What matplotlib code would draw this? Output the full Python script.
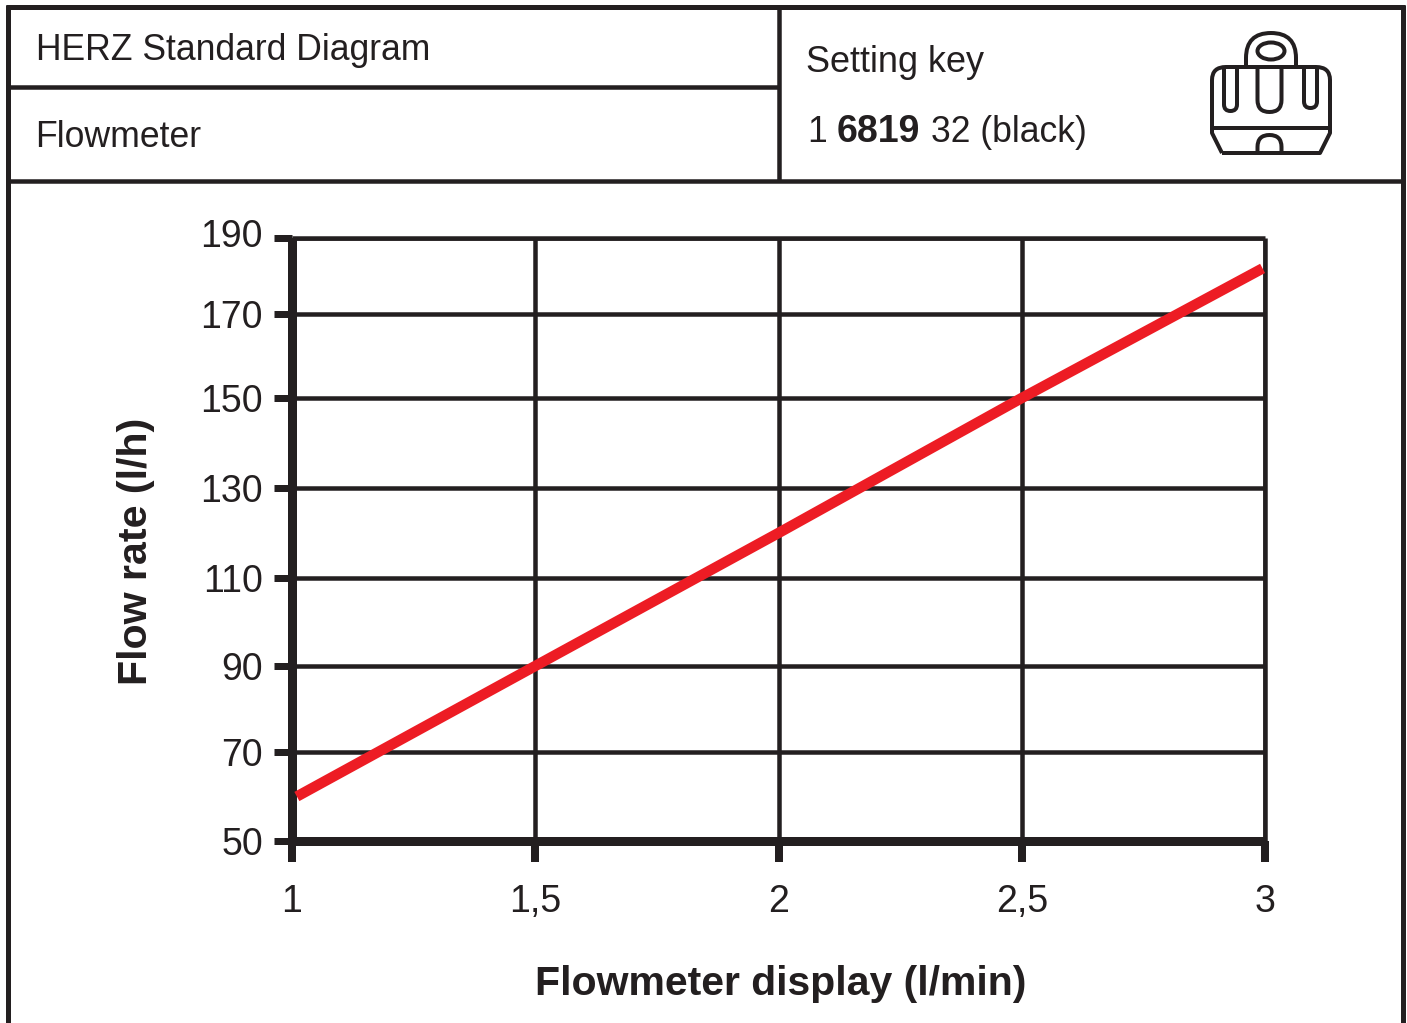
import numpy as np
import matplotlib
matplotlib.use('Agg')
import matplotlib.pyplot as plt
from matplotlib.path import Path
from matplotlib.patches import PathPatch, Ellipse
from matplotlib.transforms import ScaledTranslation

plt.rcParams['font.family'] = ['Liberation Sans', 'DejaVu Sans']

display_values = [1, 1.5, 2, 2.5, 3]
display_labels = ['1', '1,5', '2', '2,5', '3']
flow_display = [1.01, 1.5, 2, 2.5, 2.995]
flow_rate = [60, 90, 120, 150, 182]
flow_ticks = [50, 70, 90, 110, 130, 150, 170, 190]

# the printed y grid is not quite even, so the scale follows the pixel rows
tick_rows = np.array([841, 752, 666, 578, 488, 398, 314, 238])

INK = '#231f20'
RED = '#ed1c24'
W, H = 1407, 1023


def px(n):
    return n * 72 / 100


def rows_forward(v):
    return np.interp(v, flow_ticks, 841 - tick_rows)


def rows_inverse(v):
    return np.interp(v, 841 - tick_rows, flow_ticks)


fig = plt.figure(figsize=(W / 100, H / 100), dpi=100, facecolor='white')

# overlay in pixel coordinates for the header table and the icon
bg = fig.add_axes([0, 0, 1, 1])
bg.set_xlim(0, W)
bg.set_ylim(H, 0)
bg.axis('off')

for xs, ys, w in [([8, 8], [5, H], 5), ([1403, 1403], [5, H], 5), ([6, 1405], [7, 7], 5),
                  ([8, 1403], [181, 181], 4.5), ([8, 779], [87, 87], 4.5), ([779, 779], [7, 181], 4.5)]:
    bg.plot(xs, ys, color=INK, lw=px(w), solid_capstyle='butt')

bg.text(36, 60, 'HERZ Standard Diagram', fontsize=25.6, color=INK)
bg.text(35, 147, 'Flowmeter', fontsize=25.7, color=INK)
bg.text(806, 72, 'Setting key', fontsize=26, color=INK)
bg.text(807, 142, '1', fontsize=25.6, color=INK)
bg.text(837, 142, '6819', fontsize=27, color=INK, fontweight='bold')
bg.text(931, 142, '32 (black)', fontsize=25.6, color=INK)

M, L, C = Path.MOVETO, Path.LINETO, Path.CURVE3


def outline(verts, codes=None):
    bg.add_patch(PathPatch(Path(verts, codes), fill=False, ec=INK, lw=px(4), joinstyle='round'))


def slot(x0, x1, top, tip):
    # straight sides closed by a round end, tip may point up or down
    r = (x1 - x0) / 2
    knee = tip - r if tip > top else tip + r
    outline([(x0, top), (x0, knee), (x0, tip), (x0 + r, tip), (x1, tip), (x1, knee), (x1, top)],
            [M, L, C, C, C, C, L])


# body
outline([(1222, 153), (1212, 133), (1212, 128), (1212, 80), (1212, 67), (1226, 67), (1316, 67), (1330, 67),
         (1330, 80), (1330, 128), (1330, 133), (1320, 153), (1222, 153)],
        [M, L, L, L, C, C, L, C, C, L, L, L, L])
outline([(1212, 128), (1330, 128)])
# handle
slot(1246, 1296, 67, 33)
bg.add_patch(Ellipse((1271, 51), 27, 17, fill=False, ec=INK, lw=px(4)))
# slots
slot(1224, 1237, 67, 111)
slot(1257.5, 1281.5, 67, 112)
slot(1304, 1317, 67, 108)
# bottom arch
slot(1257.5, 1281.5, 153, 135)

ax = fig.add_axes([292 / W, (H - 841) / H, (1265 - 292) / W, (841 - 238) / H])
ax.patch.set_alpha(0)
ax.set_yscale('function', functions=(rows_forward, rows_inverse))
ax.set_xlim(1, 3)
ax.set_ylim(50, 190)
ax.set_xticks(display_values, display_labels)
ax.set_yticks(flow_ticks)
ax.minorticks_off()

ax.grid(True, color=INK, lw=px(4.5))
ax.set_axisbelow(True)
ax.plot(flow_display, flow_rate, color=RED, lw=px(10.5), solid_capstyle='butt', zorder=3)

for side, w in [('left', 9), ('bottom', 9), ('top', 4.5), ('right', 4.5)]:
    ax.spines[side].set_linewidth(px(w))
    ax.spines[side].set_color(INK)
    ax.spines[side].set_capstyle('butt')

ax.tick_params(axis='y', length=px(18), width=px(7), color=INK, labelsize=27, labelcolor=INK, pad=px(11))
ax.tick_params(axis='x', length=px(21), width=px(8), color=INK, labelsize=27, labelcolor=INK, pad=px(22))

# the top label sits a little above its tick in the original
top_label = ax.get_yticklabels()[-1]
top_label.set_transform(top_label.get_transform() + ScaledTranslation(0, 5 / 100, fig.dpi_scale_trans))

fig.text(781 / W, 1 - 995 / H, 'Flowmeter display (l/min)', fontsize=29.5, fontweight='bold', color=INK,
         ha='center', va='baseline')
fig.text(136 / W, 1 - 551 / H, 'Flow rate (l/h)', fontsize=29.6, fontweight='bold', color=INK,
         ha='center', va='center', rotation=90)

fig.savefig('out.png', dpi=100)
